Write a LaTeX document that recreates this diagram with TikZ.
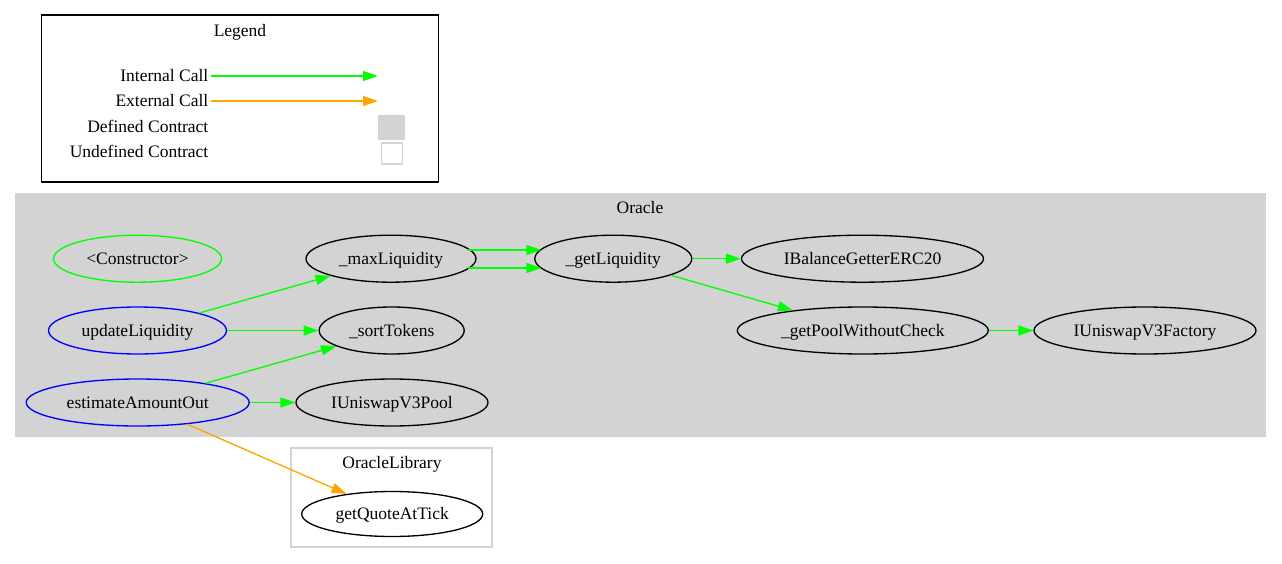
\documentclass[tikz,border=0pt]{standalone}
\usepackage{fontspec}
\setmainfont{Liberation Serif}
\usetikzlibrary{shapes.geometric,arrows.meta}
\definecolor{callgreen}{HTML}{00FF00}
\definecolor{callorange}{HTML}{FFA500}
\definecolor{clustergray}{HTML}{D3D3D3}
\begin{document}
\begin{tikzpicture}[x=1pt,y=-1pt,line width=1.33pt,
  every node/.style={font=\fontsize{17.5}{20}\selectfont,text height=12.5pt,text depth=1.5pt},
  fn/.style={draw,ellipse,inner sep=0pt,minimum height=47pt},
  ic/.style={callgreen,-{Triangle[length=15pt,width=10pt]}},
  ec/.style={callorange,-{Triangle[length=15pt,width=10pt]}}]
\useasboundingbox (0,0) rectangle (1282,564);
% legend
\draw (41.5,15) rectangle (438.5,182);
\node (legend) at (240,31) {Legend};
\node[anchor=east,inner sep=2pt] (intcall) at (211,76) {Internal Call};
\node[anchor=east,inner sep=2pt] (extcall) at (211,101) {External Call};
\node[anchor=east,inner sep=2pt] (defc) at (211,127) {Defined Contract};
\node[anchor=east,inner sep=2pt] (undefc) at (211,152.5) {Undefined Contract};
\coordinate (intend) at (378,76);
\coordinate (extend) at (378,101);
\draw[ic] (intcall) -- (intend);
\draw[ec] (extcall) -- (extend);
\node[fill=clustergray,inner sep=0pt,minimum width=26.5pt,minimum height=25.5pt] (defbox) at (391.7,127.3) {};
\node[draw=clustergray,inner sep=0pt,minimum size=21pt] (undefbox) at (391.7,153.5) {};
% Oracle
\fill[clustergray] (15,193) rectangle (1266,437);
\node (oracle) at (640,208.5) {Oracle};
\node[fn,draw=callgreen,minimum width=168pt] (ctor) at (137.5,258.7) {<Constructor>};
\node[fn,draw=blue,minimum width=178pt] (updliq) at (137.5,330.5) {updateLiquidity};
\node[fn,draw=blue,minimum width=223pt] (estout) at (137.7,402.5) {estimateAmountOut};
\node[fn,minimum width=170pt] (maxliq) at (391,258.7) {\_maxLiquidity};
\node[fn,minimum width=145pt] (sorttok) at (391.7,330.5) {\_sortTokens};
\node[fn,minimum width=192pt] (pool) at (392,402.5) {IUniswapV3Pool};
\node[fn,minimum width=157pt] (getliq) at (613.3,258.7) {\_getLiquidity};
\node[fn,minimum width=242pt] (balget) at (862.5,258.7) {IBalanceGetterERC20};
\node[fn,minimum width=251pt] (getpool) at (862.8,330.5) {\_getPoolWithoutCheck};
\node[fn,minimum width=222pt] (factory) at (1145,330.5) {IUniswapV3Factory};
% OracleLibrary
\draw[clustergray] (291,448) rectangle (492,547);
\node (oraclelib) at (392,463) {OracleLibrary};
\node[fn,minimum width=181pt,minimum height=45pt] (quote) at (392.2,514) {getQuoteAtTick};
% calls
\draw[ic] (updliq) -- (maxliq);
\draw[ic] (updliq) -- (sorttok);
\draw[ic] (estout) -- (sorttok);
\draw[ic] (estout) -- (pool);
\draw[ic] (maxliq.8 |- 0,250) -- (getliq.172 |- 0,250);
\draw[ic] (maxliq.-8 |- 0,268) -- (getliq.-172 |- 0,268);
\draw[ic] (getliq) -- (balget);
\draw[ic] (getliq) -- (getpool);
\draw[ic] (getpool) -- (factory);
\draw[ec] (estout) -- (quote);
\end{tikzpicture}
\end{document}
